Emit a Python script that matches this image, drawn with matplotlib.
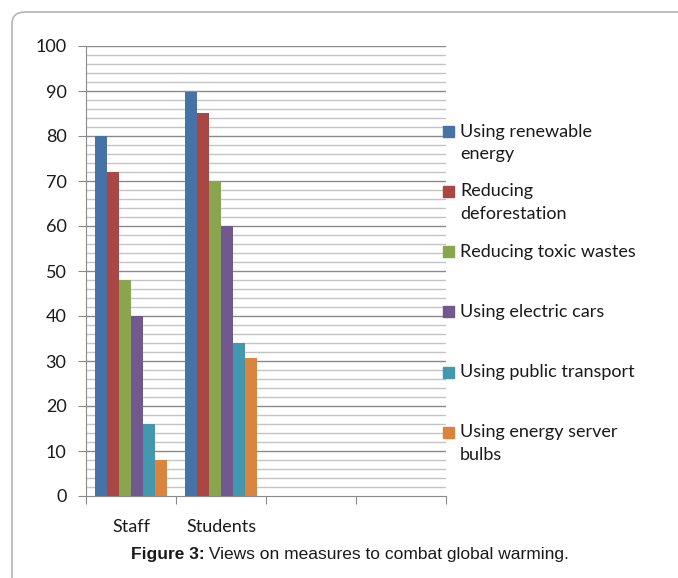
import matplotlib.pyplot as plt
import numpy as np
from matplotlib.patches import FancyBboxPatch, Rectangle

groups = ['Staff', 'Students', '', '']
measures = ['Using renewable\nenergy', 'Reducing\ndeforestation', 'Reducing toxic wastes',
            'Using electric cars', 'Using public transport', 'Using energy server\nbulbs']
staff = [80, 72, 48, 40, 16, 8]
students = [89.7, 85.2, 70, 60, 34, 30.7]
colors = ['#4572A7', '#AA4643', '#89A54E', '#71588F', '#4198AF', '#DB843D']

fig = plt.figure(figsize=(6.78, 5.78), dpi=100)
W, H = 678, 578

# outer frame with rounded corner, kept behind the axes
frame = FancyBboxPatch((12 / W, -0.1), 1.2, 0.1 + (H - 12) / H, transform=fig.transFigure,
                       boxstyle='round,pad=0,rounding_size=0.02', fc='none', ec='#b4b4b4',
                       lw=1.2, zorder=-1)
fig.patches.append(frame)

ax = fig.add_axes([86 / W, 1 - 496 / H, 360 / W, 450 / H])
ax.patch.set_alpha(0)
ax.set_xlim(0, 4)
ax.set_ylim(0, 100)

for y in range(2, 101, 2):
    if y % 10 == 0:
        ax.axhline(y, color='#8a8a8a', lw=1.0, zorder=1)
    else:
        ax.axhline(y, color='#c4c4c4', lw=1.0, zorder=1)

bw = 0.8 / 6
for i, c in enumerate(colors):
    xs = np.array([0.5, 1.5]) + (i - 2.5) * bw
    ax.bar(xs, [staff[i], students[i]], width=bw, color=c, zorder=2)

for s in ['top', 'right']:
    ax.spines[s].set_visible(False)
ax.spines['left'].set_color('#8a8a8a')
ax.spines['bottom'].set_color('#8a8a8a')

ax.set_yticks(range(0, 101, 10))
ax.tick_params(axis='y', length=6, color='#8a8a8a', labelsize=13, pad=8)
ax.set_yticklabels([str(v) for v in range(0, 101, 10)], family='Lato', color='#1a1a1a')

ax.set_xticks(range(0, 5))
ax.set_xticklabels([])
ax.tick_params(axis='x', length=6, color='#8a8a8a')
for k, g in enumerate(groups):
    if g:
        ax.text(k + 0.5, -5.0, g, ha='center', va='top', fontsize=13, family='Lato',
                color='#1a1a1a')

# legend drawn item by item
leg_y = [131.5, 191, 251.5, 311.5, 372, 432]
for lab, c, yc in zip(measures, colors, leg_y):
    fig.patches.append(Rectangle((443 / W, 1 - (yc + 5.5) / H), 11 / W, 11 / H,
                                 transform=fig.transFigure, color=c))
    for j, ln in enumerate(lab.split('\n')):
        fig.text(460 / W, 1 - (yc + 23 * j) / H, ln, ha='left', va='center',
                 fontsize=13, family='Lato', color='#1a1a1a')

# caption: bold label followed by plain text, centred as a whole
cy = 1 - 555 / H
t1 = fig.text(0, cy, 'Figure 3:', ha='left', va='center', fontsize=12.5,
              family='Liberation Sans', weight='bold', color='#1a1a1a')
t2 = fig.text(0, cy, ' Views on measures to combat global warming.', ha='left',
              va='center', fontsize=12.5, family='Liberation Sans', color='#1a1a1a')
r = fig.canvas.get_renderer()
w1 = t1.get_window_extent(r).width
w2 = t2.get_window_extent(r).width
x0 = 350 - (w1 + w2) / 2
t1.set_x(x0 / W)
t2.set_x((x0 + w1) / W)

fig.savefig('out.png', dpi=100)
